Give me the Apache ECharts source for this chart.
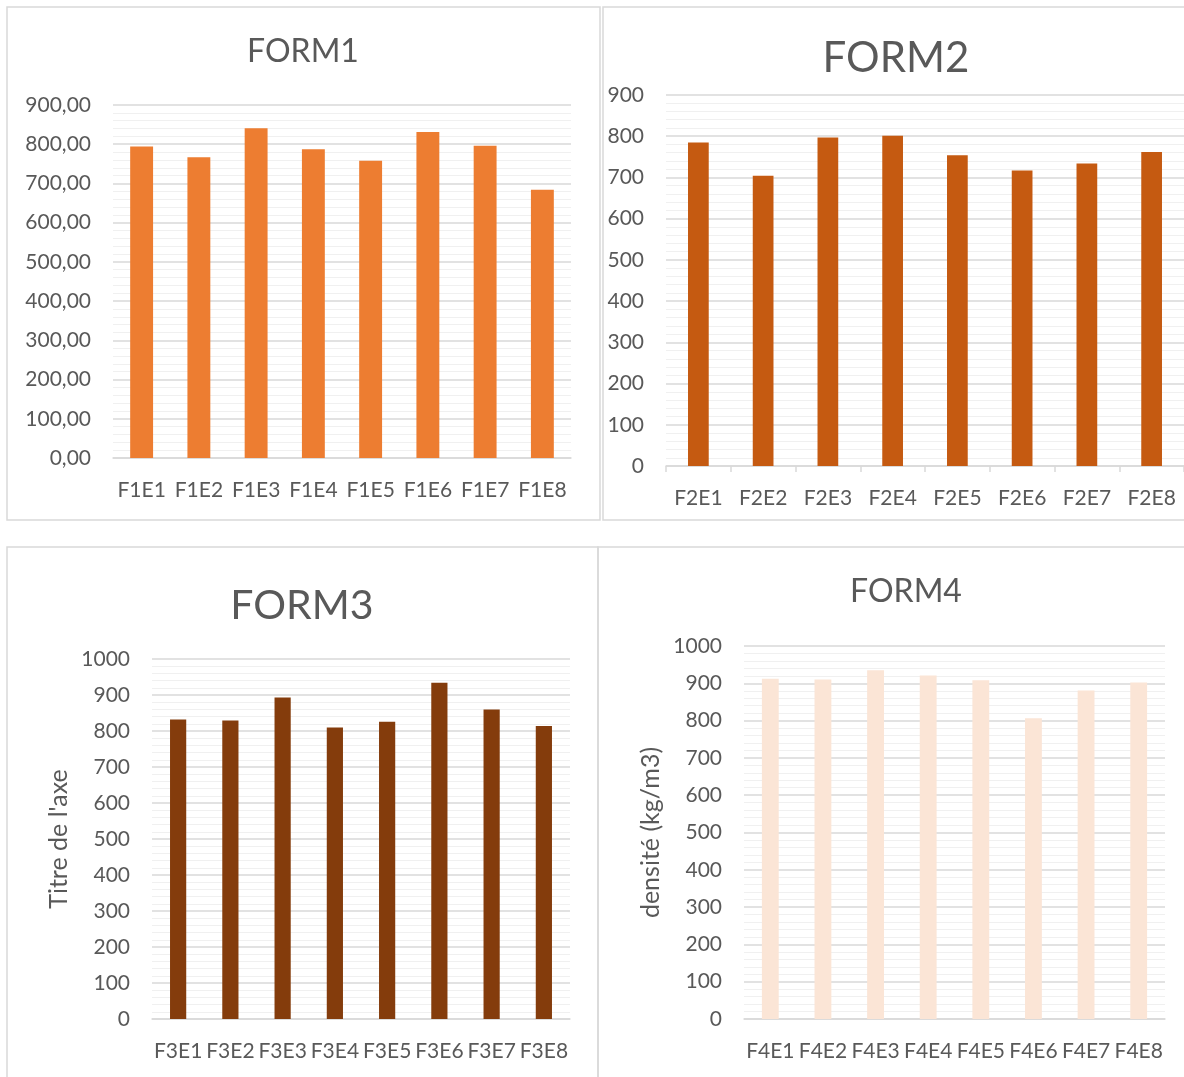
<!DOCTYPE html>
<html><head><meta charset="utf-8">
<script src="https://cdn.jsdelivr.net/npm/echarts@6/dist/echarts.min.js"></script>
<style>html,body{margin:0;padding:0;background:#fff}#c{width:1184px;height:1077px}</style>
</head><body><div id="c"></div>
<script>
// ---- data ----
const titles = ['FORM1', 'FORM2', 'FORM3', 'FORM4'];
const cats1 = ['F1E1','F1E2','F1E3','F1E4','F1E5','F1E6','F1E7','F1E8'];
const vals1 = [794, 767, 841, 787, 758, 831, 796, 684];
const cats2 = ['F2E1','F2E2','F2E3','F2E4','F2E5','F2E6','F2E7','F2E8'];
const vals2 = [785, 704, 797, 801, 754, 717, 734, 762];
const cats3 = ['F3E1','F3E2','F3E3','F3E4','F3E5','F3E6','F3E7','F3E8'];
const vals3 = [832, 829, 893, 810, 826, 934, 860, 814];
const cats4 = ['F4E1','F4E2','F4E3','F4E4','F4E5','F4E6','F4E7','F4E8'];
const vals4 = [912, 910, 935, 921, 908, 806, 881, 902];
const yMax = [900, 900, 1000, 1000];
const yNames = ['', '', "Titre de l'axe", 'densité (kg/m3)'];

// ---- layout / style ----
const FONT = 'Lato, Carlito, Calibri, sans-serif';
const TXT = '#595959';
const grids = [
  {left: 113, top: 105, width: 458, height: 353},
  {left: 666, top: 95, width: 524, height: 371},
  {left: 152, top: 659, width: 418, height: 360},
  {left: 744, top: 646, width: 421, height: 373}
];
const colors = ['#ED7D31', '#C55A11', '#843C0C', '#FBE5D6'];
const gaps = ['60%', '68%', '69%', '68%'];
const titlePos = [
  {x: 303, y: 52, size: 32},
  {x: 896, y: 58, size: 42},
  {x: 302, y: 606, size: 41},
  {x: 906, y: 592, size: 32}
];
const catsAll = [cats1, cats2, cats3, cats4];
const valsAll = [vals1, vals2, vals3, vals4];

const option = {
  backgroundColor: '#fff',
  animation: false,
  textStyle: {fontFamily: FONT},
  title: titlePos.map((t, i) => ({
    text: titles[i], left: t.x, top: t.y, textAlign: 'center', textVerticalAlign: 'middle',
    padding: 0,
    textStyle: {fontFamily: FONT, fontSize: t.size, fontWeight: 'normal', color: TXT}
  })),
  grid: grids.map(g => Object.assign({containLabel: false}, g)),
  xAxis: catsAll.map((c, i) => ({
    type: 'category', gridIndex: i, data: c, boundaryGap: true,
    axisLine: {show: true, lineStyle: {color: '#d9d9d9', width: 1.5}},
    axisTick: {show: i === 1, length: 6, lineStyle: {color: '#d9d9d9', width: 1.5}},
    axisLabel: {interval: 0, margin: 22, fontSize: 21, color: TXT, fontFamily: FONT},
    splitLine: {show: false}
  })),
  yAxis: yMax.map((m, i) => ({
    type: 'value', gridIndex: i, min: 0, max: m, interval: 100,
    name: yNames[i], nameLocation: 'middle', nameGap: 81, nameRotate: 90,
    nameTextStyle: {fontSize: 25, color: TXT, fontFamily: FONT},
    axisLine: {show: false}, axisTick: {show: false},
    axisLabel: {
      margin: 22, fontSize: 21, color: TXT, fontFamily: FONT,
      formatter: i === 0 ? (v => v.toFixed(2).replace('.', ',')) : (v => String(v))
    },
    splitLine: {show: true, lineStyle: {color: '#d9d9d9', width: 1.5}},
    minorTick: {show: false, splitNumber: 5},
    minorSplitLine: {show: true, lineStyle: {color: '#f0f0f0', width: 1}}
  })),
  series: valsAll.map((v, i) => ({
    type: 'bar', xAxisIndex: i, yAxisIndex: i, data: v,
    barCategoryGap: gaps[i],
    itemStyle: {color: colors[i]}
  })),
  graphic: [
    {type: 'rect', shape: {x: 7, y: 7, width: 593, height: 513}, style: {fill: 'none', stroke: '#d9d9d9', lineWidth: 1.5}, silent: true},
    {type: 'rect', shape: {x: 603, y: 7, width: 620, height: 513}, style: {fill: 'none', stroke: '#d9d9d9', lineWidth: 1.5}, silent: true},
    {type: 'rect', shape: {x: 7, y: 547, width: 591, height: 600}, style: {fill: 'none', stroke: '#d9d9d9', lineWidth: 1.5}, silent: true},
    {type: 'rect', shape: {x: 598, y: 547, width: 620, height: 600}, style: {fill: 'none', stroke: '#d9d9d9', lineWidth: 1.5}, silent: true}
  ]
};
const chart = echarts.init(document.getElementById('c'), null, {renderer: 'canvas'});
chart.setOption(option);
</script>
</body></html>
